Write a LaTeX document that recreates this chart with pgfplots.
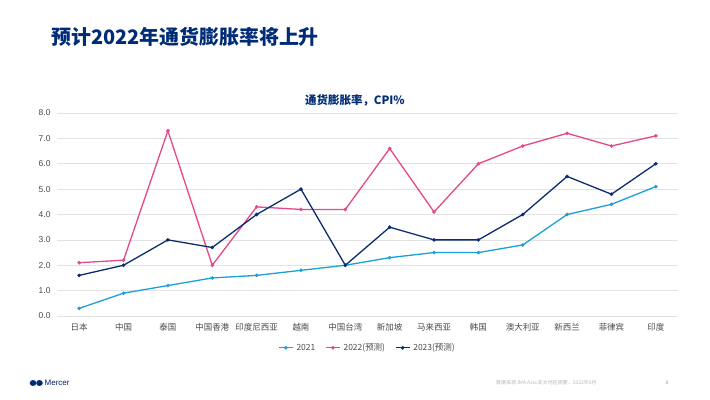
\documentclass[border=0pt]{standalone}
\usepackage{pgfplots}
\pgfplotsset{compat=1.18}
\usepackage{fontspec}
\setmainfont{Liberation Sans}
\newfontfamily\cjk{Noto Sans CJK SC}
\definecolor{navy}{HTML}{0B2C6E}
\definecolor{ttl}{HTML}{002C77}
\definecolor{lblue}{HTML}{1BA0D7}
\definecolor{pink}{HTML}{E6478A}
\definecolor{tick}{HTML}{4A4A4A}
\begin{document}
\begin{tikzpicture}[x=1bp,y=1bp]
\path[use as bounding box, fill=white] (0,0) rectangle (710,399);
\node[anchor=west, text=ttl, inner sep=0] at (51,362) {\cjk\bfseries\fontsize{20}{24}\selectfont 预计2022年通货膨胀率将上升};
\node[text=ttl, inner sep=0] at (355,299) {\cjk\bfseries\fontsize{11.5}{14}\selectfont 通货膨胀率，CPI\%};
\begin{axis}[
  at={(57bp,83bp)}, anchor=south west,
  scale only axis, width=621bp, height=203bp,
  xmin=-0.5, xmax=13.5, ymin=0, ymax=8,
  ytick={0,1,...,8},
  /pgf/number format/fixed, /pgf/number format/fixed zerofill, /pgf/number format/precision=1,
  /pgf/number format/assume math mode=true,
  xtick={0,...,13},
  xticklabels={日本,中国,泰国,中国香港,印度尼西亚,越南,中国台湾,新加坡,马来西亚,韩国,澳大利亚,新西兰,菲律宾,印度},
  xticklabel style={font=\cjk\fontsize{8.5}{10}\selectfont, text=tick},
  yticklabel style={font=\fontsize{8.5}{10}\selectfont, text=tick},
  major tick length=0pt,
  axis line style={draw=none},
  ymajorgrids, grid style={gray!22, line width=0.6pt},
  xticklabel shift=4bp, yticklabel shift=3bp,
  every axis plot/.append style={line width=1.3pt, mark=*, mark size=1.7pt, mark options={line width=0.3pt}},
  legend style={at={(0.5,-0.115)}, anchor=north, draw=none, legend columns=3,
    font=\cjk\fontsize{8.5}{10}\selectfont, text=tick,
    /tikz/every odd column/.append style={column sep=1bp},
    /tikz/every even column/.append style={column sep=8bp}},
  legend cell align=left,
  legend image code/.code={\draw[#1] (0bp,0bp) -- (14bp,0bp); \draw[#1] plot coordinates {(7bp,0bp)};},
]
\addplot[color=lblue] coordinates {(0,0.3)(1,0.9)(2,1.2)(3,1.5)(4,1.6)(5,1.8)(6,2.0)(7,2.3)(8,2.5)(9,2.5)(10,2.8)(11,4.0)(12,4.4)(13,5.1)};
\addlegendentry{2021}
\addplot[color=pink] coordinates {(0,2.1)(1,2.2)(2,7.3)(3,2.0)(4,4.3)(5,4.2)(6,4.2)(7,6.6)(8,4.1)(9,6.0)(10,6.7)(11,7.2)(12,6.7)(13,7.1)};
\addlegendentry{2022(预测)}
\addplot[color=navy] coordinates {(0,1.6)(1,2.0)(2,3.0)(3,2.7)(4,4.0)(5,5.0)(6,2.0)(7,3.5)(8,3.0)(9,3.0)(10,4.0)(11,5.5)(12,4.8)(13,6.0)};
\addlegendentry{2023(预测)}
\end{axis}
\fill[ttl] (33,16) ellipse (3.3 and 3);
\fill[ttl] (39.5,16) ellipse (3.3 and 3);
\node[anchor=west, inner sep=0, text=ttl!85!black] at (44.5,16) {\fontsize{8}{10}\selectfont Mercer};
\node[anchor=west, inner sep=0, text=gray!55] at (496,16) {\cjk\itshape\fontsize{5}{6}\selectfont 数据来源:IMA Asia 亚太地区摘要，2022年6月};
\node[inner sep=0, text=gray!70] at (667,16) {\fontsize{5}{6}\selectfont 8};
\end{tikzpicture}
\end{document}
